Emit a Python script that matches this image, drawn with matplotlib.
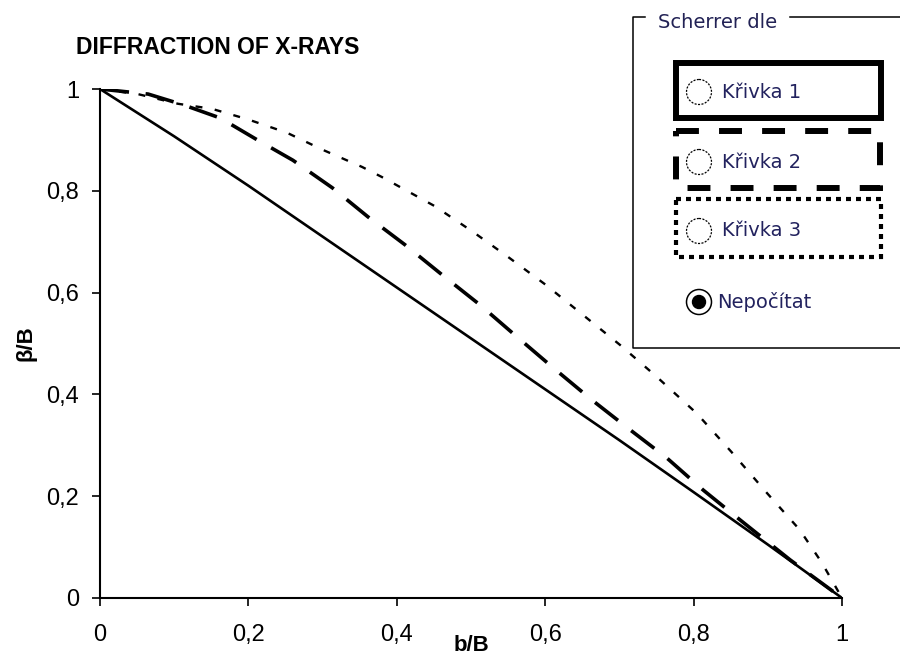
import matplotlib
matplotlib.use('Agg')
import matplotlib.pyplot as plt
from matplotlib.patches import Rectangle, Circle

plt.rcParams['font.family'] = ['Liberation Sans', 'DejaVu Sans']
plt.rcParams['lines.scale_dashes'] = False

# krivky (b/B -> beta/B)
x1 = [0, 0.1, 0.2, 0.3, 0.4, 0.5, 0.6, 0.7, 0.8, 0.9, 1]
y1 = [1, 0.907, 0.81, 0.71, 0.61, 0.51, 0.41, 0.31, 0.208, 0.105, 0]

x2 = [0, 0.065, 0.112, 0.162, 0.212, 0.26, 0.313, 0.361, 0.411, 0.461, 0.512,
      0.562, 0.611, 0.663, 0.713, 0.764, 0.813, 0.863, 0.93, 1]
y2 = [1, 0.99, 0.969, 0.943, 0.90, 0.86, 0.806, 0.749, 0.694, 0.635, 0.576,
      0.513, 0.452, 0.389, 0.332, 0.275, 0.212, 0.153, 0.075, 0]

x3 = [0, 0.051, 0.105, 0.151, 0.2, 0.252, 0.301, 0.353, 0.38, 0.451, 0.503,
      0.55, 0.601, 0.651, 0.701, 0.75, 0.804, 0.851, 0.899, 0.943, 0.973, 1]
y3 = [1, 0.99, 0.971, 0.961, 0.94, 0.914, 0.88, 0.847, 0.827, 0.77, 0.719,
      0.67, 0.615, 0.556, 0.497, 0.435, 0.363, 0.287, 0.206, 0.134, 0.069, 0]

ticks = [0, 0.2, 0.4, 0.6, 0.8, 1]
tick_labels = ['0', '0,2', '0,4', '0,6', '0,8', '1']
legend_labels = ['Křivka 1', 'Křivka 2', 'Křivka 3']

fig = plt.figure(figsize=(9, 6.55), dpi=100)
ax = fig.add_axes([100 / 900, 1 - 598 / 655, 742 / 900, 509 / 655])

ax.plot(x1, y1, color='black', lw=1.9, solid_capstyle='butt')
ax.plot(x2, y2, color='black', lw=2.6, dashes=(21, 12))
ax.plot(x3, y3, color='black', lw=1.7, dashes=(5, 9))

ax.set_xlim(0, 1)
ax.set_ylim(0, 1)
ax.set_xticks(ticks)
ax.set_xticklabels(tick_labels)
ax.set_yticks(ticks)
ax.set_yticklabels(tick_labels)
for s in ['top', 'right']:
    ax.spines[s].set_visible(False)
for s in ['left', 'bottom']:
    ax.spines[s].set_linewidth(1.5)
ax.tick_params(axis='x', direction='out', length=6, width=1.2, pad=13, labelsize=17)
ax.tick_params(axis='y', direction='out', length=6, width=1.2, pad=9, labelsize=17)
for sp in ax.spines.values():
    sp.set_clip_on(False)

ax.set_xlabel('b/B', fontsize=16, fontweight='bold')
ax.xaxis.set_label_coords(0.5, -0.072)
ax.set_ylabel('β/B', fontsize=16, fontweight='bold')
ax.yaxis.set_label_coords(-0.085, 0.5)

fig.text(76 / 900, 1 - 48 / 655, 'DIFFRACTION OF X-RAYS', fontsize=16.5,
         fontweight='bold', ha='left', va='center')

# ovladaci panel vpravo nahore (v pixelech)
ov = fig.add_axes([0, 0, 1, 1])
ov.set_xlim(0, 900)
ov.set_ylim(655, 0)
ov.axis('off')
ov.patch.set_alpha(0)

ov.plot([645, 633, 633, 900], [17, 17, 348, 348], color='black', lw=1.1)
ov.plot([790, 900], [17, 17], color='black', lw=1.1)
ov.text(658, 22, 'Scherrer dle', fontsize=14, family='DejaVu Sans',
        color='#222255', ha='left', va='center')

txt_col = '#22225e'
ov.add_patch(Rectangle((675.5, 62.5), 205, 55, fill=False, ec='black', lw=4.3))
ov.add_patch(Rectangle((676, 131), 204, 57, fill=False, ec='black', lw=4.3,
                       linestyle=(0, (16.5, 14.5))))
ov.add_patch(Rectangle((676, 199), 205, 58, fill=False, ec='black', lw=3,
                       linestyle=(0, (3.6, 3.6))))

for lab, yy in zip(legend_labels, [92, 162, 231]):
    ov.add_patch(Circle((699, yy), 12.5, fill=False, ec='black', lw=0.9,
                        linestyle=(0, (1.5, 1))))
    ov.text(722, yy, lab, fontsize=14, family='DejaVu Sans', color=txt_col,
            ha='left', va='center')

ov.add_patch(Circle((699, 302), 12.5, fill=False, ec='black', lw=1.1))
ov.add_patch(Circle((699, 302), 6.5, fc='black', ec='black'))
ov.text(717, 302, 'Nepočítat', fontsize=14, family='DejaVu Sans', color=txt_col,
        ha='left', va='center')

fig.savefig('out.png', dpi=100)
